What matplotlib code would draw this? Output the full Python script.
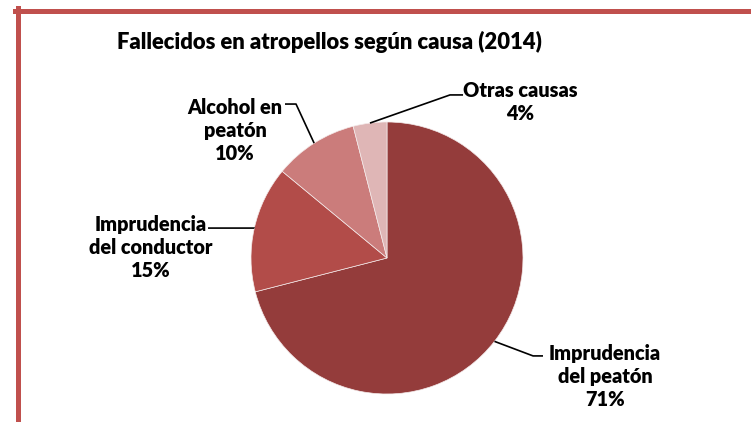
import numpy as np
import matplotlib
matplotlib.use("Agg")
import matplotlib.pyplot as plt
from matplotlib.lines import Line2D

title = "Fallecidos en atropellos según causa (2014)"
categories = ["Imprudencia\ndel peatón", "Imprudencia\ndel conductor", "Alcohol en\npeatón", "Otras causas"]
values = [71, 15, 10, 4]
colors = ["#943c3b", "#b24c49", "#cb7c7b", "#dfb6b6"]

W, H = 751, 422
fig = plt.figure(figsize=(W / 100, H / 100), dpi=100)
fig.patch.set_facecolor("white")

FONT = ["Lato", "DejaVu Sans"]

# pie geometry (pixels)
cx, cy, R = 387, 258, 136
ax = fig.add_axes([(cx - R) / W, (H - cy - R) / H, 2 * R / W, 2 * R / H])
ax.axis("off")

wedges, _ = ax.pie(values, colors=colors, startangle=90, counterclock=False,
                   radius=1, wedgeprops=dict(linewidth=0.5, edgecolor="#f4eaea"))
ax.set_xlim(-1, 1)
ax.set_ylim(-1, 1)
ax.set_aspect("equal")

# label layout (data coordinates relative to pie)
text_pos = [(1.603, -0.868), (-1.74, 0.074), (-1.118, 0.94), (0.978, 1.147)]
elbows = [(1.074, -0.72), (-0.976, 0.22), (-0.669, 1.132), (0.463, 1.199)]
ends = [(1.147, -0.72), (-1.316, 0.22), (-0.75, 1.132), (0.559, 1.199)]

for w, cat, v, tp, el, en in zip(wedges, categories, values, text_pos, elbows, ends):
    mid = np.deg2rad((w.theta1 + w.theta2) / 2)
    sx, sy = np.cos(mid), np.sin(mid)
    ax.plot([sx, el[0], en[0]], [sy, el[1], en[1]], color="black", lw=1.2,
            clip_on=False, solid_capstyle="butt")
    ax.text(tp[0], tp[1], f"{cat}\n{v}%", ha="center", va="center",
            fontsize=14.3, fontweight="heavy", family=FONT, linespacing=1.25,
            color="black", clip_on=False)

fig.text(329 / W, 1 - 42 / H, title, ha="center", va="center",
         fontsize=15.8, fontweight="heavy", family=FONT, color="black")

# frame
bc = "#c0504d"
fig.add_artist(Line2D([17.5 / W, 17.5 / W], [0, 1 - 8 / H], color=bc, lw=3.6,
                      transform=fig.transFigure))
fig.add_artist(Line2D([15 / W, 1], [1 - 10.5 / H, 1 - 10.5 / H], color=bc, lw=3.6,
                      transform=fig.transFigure))

fig.savefig("out.png", dpi=100)
